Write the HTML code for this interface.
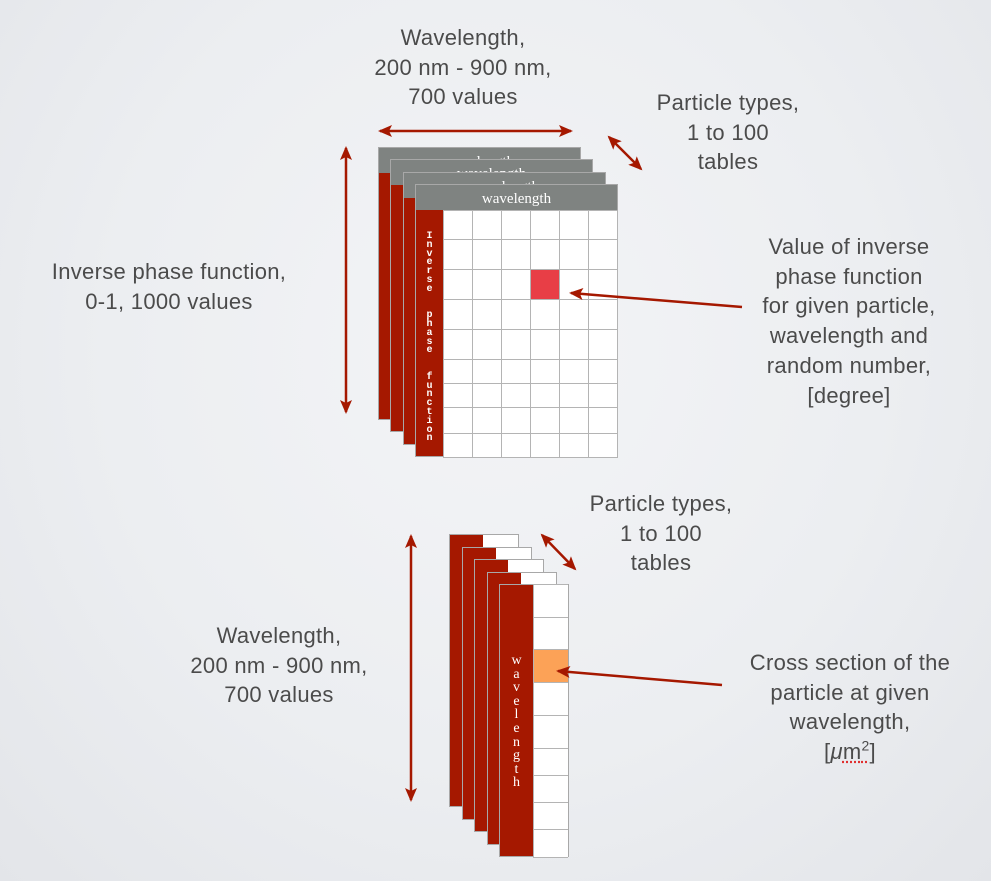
<!DOCTYPE html>
<html><head><meta charset="utf-8">
<style>
html,body{margin:0;padding:0;}
body{width:991px;height:881px;position:relative;overflow:hidden;
background:radial-gradient(ellipse at 50% 40%,#f3f4f6 0%,#eceef1 55%,#e3e5e9 100%);
font-family:"Liberation Sans",sans-serif;}
.lbl{position:absolute;color:#4b4b4b;font-size:22px;line-height:29.7px;text-align:center;white-space:nowrap;letter-spacing:0.3px;}
.tbl{position:absolute;border:1px solid #a8a8a8;box-sizing:border-box;background:#fff;}
.hdr{position:absolute;left:0;top:0;right:0;height:25px;background:#7f8381;color:#fff;font-family:"Liberation Serif",serif;font-size:15px;text-align:center;line-height:28px;}
.side{position:absolute;background:#a51800;}
.cell{position:absolute;box-sizing:border-box;}
.vt{position:absolute;color:#fff;font-family:"Liberation Mono",monospace;font-size:10px;line-height:8.8px;text-align:center;font-weight:bold;}
.vt2{position:absolute;color:#fff;font-family:"Liberation Serif",serif;font-size:14px;line-height:13.6px;text-align:center;}
svg{position:absolute;left:0;top:0;}
sup{line-height:0;}
</style></head>
<body>
<div class="lbl" style="left:363px;top:23px;width:200px;">Wavelength,<br>200 nm - 900 nm,<br>700 values</div>
<div class="lbl" style="left:628px;top:88px;width:200px;">Particle types,<br>1 to 100<br>tables</div>
<div class="lbl" style="left:39px;top:257px;width:260px;">Inverse phase function,<br>0-1, 1000 values</div>
<div class="lbl" style="left:739px;top:232px;width:220px;">Value of inverse<br>phase function<br>for given particle,<br>wavelength and<br>random number,<br>[degree]</div>
<div class="lbl" style="left:561px;top:489px;width:200px;">Particle types,<br>1 to 100<br>tables</div>
<div class="lbl" style="left:169px;top:621px;width:220px;">Wavelength,<br>200 nm - 900 nm,<br>700 values</div>
<div class="lbl" style="left:730px;top:648px;width:240px;">Cross section of the<br>particle at given<br>wavelength,<br>[<i>μ</i><span style="text-decoration:underline dotted #e03030;">m<sup style="font-size:14px">2</sup></span>]</div>

<div id="topStack"></div>
<div id="botStack"></div>

<svg width="991" height="881">
<defs>
<marker id="ah2" markerWidth="14" markerHeight="12" refX="12" refY="6" orient="auto-start-reverse" markerUnits="userSpaceOnUse"><path d="M0,0 L14,6 L0,12 L3,6 z" fill="#a51800"/></marker></defs>
<g stroke="#a51800" stroke-width="2.5" fill="none">
<line x1="380" y1="131" x2="571" y2="131" marker-start="url(#ah2)" marker-end="url(#ah2)"/>
<line x1="609" y1="137" x2="641" y2="169" marker-start="url(#ah2)" marker-end="url(#ah2)"/>
<line x1="346" y1="148" x2="346" y2="412" marker-start="url(#ah2)" marker-end="url(#ah2)"/>
<line x1="742" y1="307" x2="571" y2="293" marker-end="url(#ah2)"/>
<line x1="542" y1="535" x2="575" y2="569" marker-start="url(#ah2)" marker-end="url(#ah2)"/>
<line x1="411" y1="536" x2="411" y2="800" marker-start="url(#ah2)" marker-end="url(#ah2)"/>
<line x1="722" y1="685" x2="558" y2="671" marker-end="url(#ah2)"/>
</g></svg>

<script>
const topX=[378,390,403,415];
const topY=[147,159,172,184];
const topRows=[210,239,269,299,329,359,383,407,433,457];
const topCols=[443,472,501,530,559,588,617];
const hiTop=[3,2];
const botX=[449,462,474,487,499];
const botY=[534,547,559,572,584];
const botRows=[584,617,649,682,715,748,775,802,829,857];
const hiBot=2;

const topStack=document.getElementById('topStack');
topX.forEach((x,i)=>{
  const t=document.createElement('div');
  
  
  t.className='tbl';
  const y=topY[i];
  t.style.cssText=`left:${x}px;top:${y}px;width:203px;height:273px;`;
  const h=document.createElement('div');h.className='hdr';
  
  
  h.textContent='wavelength';t.appendChild(h);
  const s=document.createElement('div');s.className='side';
  
  
  s.style.cssText='left:0;top:25px;width:27px;bottom:0;';t.appendChild(s);
  if(i===topX.length-1){
    const v=document.createElement('div');v.className='vt';
    
    
    v.style.cssText='left:0;top:23px;width:27px;';
    v.innerHTML='Inverse  phase  function'.split('').map(c=>c===' '?'&nbsp;':c).join('<br>');
    s.appendChild(v);
    for(let r=0;r<topRows.length-1;r++)for(let c=0;c<topCols.length-1;c++){
      const cl=document.createElement('div');cl.className='cell';
      
      
      const bg=(r===hiTop[1]&&c===hiTop[0])?'#e83e46':'#fff';
      cl.style.cssText=`left:${topCols[c]-x-1}px;top:${topRows[r]-y-1}px;width:${topCols[c+1]-topCols[c]+1}px;height:${topRows[r+1]-topRows[r]+1}px;background:${bg};border:1px solid #b4b4b4;`;
      t.appendChild(cl);
    }
  }
  topStack.appendChild(t);
});

const botStack=document.getElementById('botStack');
botX.forEach((x,i)=>{
  const t=document.createElement('div');
  
  
  t.className='tbl';
  const y=botY[i];
  t.style.cssText=`left:${x}px;top:${y}px;width:70px;height:273px;`;
  const s=document.createElement('div');s.className='side';
  
  
  s.style.cssText='left:0;top:0;width:33px;bottom:0;';t.appendChild(s);
  if(i===botX.length-1){
    const v=document.createElement('div');v.className='vt2';
    
    
    v.style.cssText='left:0;top:69px;width:33px;';
    v.innerHTML='wavelength'.split('').join('<br>');
    s.appendChild(v);
    for(let r=0;r<botRows.length-1;r++){
      const cl=document.createElement('div');cl.className='cell';
      
      
      const bg=r===hiBot?'#fca257':'#fff';
      cl.style.cssText=`left:33px;top:${botRows[r]-y-1}px;width:35px;height:${botRows[r+1]-botRows[r]+1}px;background:${bg};border:1px solid #b4b4b4;border-right:none;`;
      t.appendChild(cl);
    }
  }
  botStack.appendChild(t);
});
</script>
</body></html>
